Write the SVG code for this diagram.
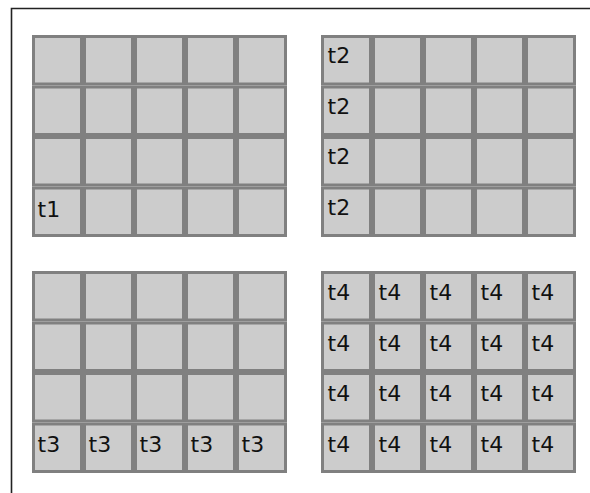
<svg xmlns="http://www.w3.org/2000/svg" width="590" height="493" viewBox="0 0 590 493">
<style>
.c{fill:#cccccc;stroke:#808080;stroke-width:3}
.t{font-family:"DejaVu Sans",Verdana,sans-serif;font-size:22px;fill:#111}
.f{stroke:#222;stroke-width:1.6;fill:none}
</style>
<defs>
<rect id="cell" class="c" x="1.5" y="1.5" width="48" height="47.5"/>
<g id="row">
<use href="#cell" x="0"/><use href="#cell" x="51"/><use href="#cell" x="102"/><use href="#cell" x="153"/><use href="#cell" x="204"/>
</g>
<g id="grid">
<use href="#row" y="0"/><use href="#row" y="50.5"/><use href="#row" y="101"/><use href="#row" y="151.5"/>
</g>
</defs>
<rect width="590" height="493" fill="#fff"/>
<g id="frame"><path class="f" d="M11.5,493 V8.5 H590"/></g>
<g id="grid1" transform="translate(32,35)">
<use href="#grid"/>
<text class="t" x="5.5" y="182">t1</text>
</g>
<g id="grid2" transform="translate(321,35)">
<use href="#grid"/>
<text class="t" x="6.5" y="28">t2</text>
<text class="t" x="6.5" y="78.5">t2</text>
<text class="t" x="6.5" y="129">t2</text>
<text class="t" x="6.5" y="179.5">t2</text>
</g>
<g id="grid3" transform="translate(32,271)">
<use href="#grid"/>
<text class="t" x="5.5" y="181">t3</text>
<text class="t" x="56.5" y="181">t3</text>
<text class="t" x="107.5" y="181">t3</text>
<text class="t" x="158.5" y="181">t3</text>
<text class="t" x="209.5" y="181">t3</text>
</g>
<g id="grid4" transform="translate(321,271)">
<use href="#grid"/>
<g class="t">
<text x="6.5" y="29">t4</text><text x="57.5" y="29">t4</text><text x="108.5" y="29">t4</text><text x="159.5" y="29">t4</text><text x="210.5" y="29">t4</text>
<text x="6.5" y="79.5">t4</text><text x="57.5" y="79.5">t4</text><text x="108.5" y="79.5">t4</text><text x="159.5" y="79.5">t4</text><text x="210.5" y="79.5">t4</text>
<text x="6.5" y="130">t4</text><text x="57.5" y="130">t4</text><text x="108.5" y="130">t4</text><text x="159.5" y="130">t4</text><text x="210.5" y="130">t4</text>
<text x="6.5" y="180.5">t4</text><text x="57.5" y="180.5">t4</text><text x="108.5" y="180.5">t4</text><text x="159.5" y="180.5">t4</text><text x="210.5" y="180.5">t4</text>
</g>
</g>
</svg>
